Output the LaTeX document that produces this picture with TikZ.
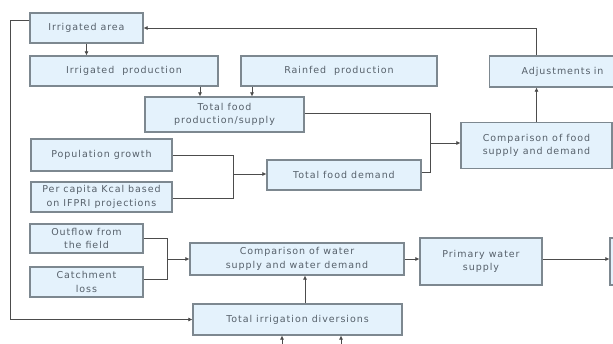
\documentclass[tikz,border=0pt]{standalone}
\usepackage{fontspec}
\usetikzlibrary{arrows.meta}
\setmainfont{DejaVu Sans}
\newfontfamily\boxfont[LetterSpace=10]{DejaVu Sans}
\definecolor{boxfill}{HTML}{E4F2FC}
\definecolor{boxline}{HTML}{7D8890}
\definecolor{txt}{HTML}{56606A}
\tikzset{
 box/.style={draw=boxline,line width=1.2pt,fill=boxfill,text=txt,font=\boxfont\fontsize{9.5}{13.5}\selectfont,align=center,inner sep=1pt},
 conn/.style={draw=black!70,line width=0.6pt},
}
\begin{document}
\begin{tikzpicture}[x=1pt,y=-1pt,>={Latex[length=4pt,width=4pt]}]
 \useasboundingbox (0,0) rectangle (613,343);
 %箱
 \node[box,minimum width=113,minimum height=30] (irrarea) at (86.5,28) {Irrigated area};
 \node[box,minimum width=188,minimum height=30] (irrprod) at (124,71) {Irrigated\ \ production};
 \node[box,minimum width=196,minimum height=30] (rainprod) at (339,71) {Rainfed\ \ production};
 \node[box,minimum width=159,minimum height=35] (foodsup) at (224.5,114.5) {Total food\\production/supply};
 \node[box,minimum width=200,minimum height=31,anchor=west,text width=150,align=left,inner xsep=32] (adjust) at (489,71.5) {Adjustments in};
 \node[box,minimum width=151,minimum height=46] (foodcomp) at (536.5,145.5) {Comparison of food\\supply and demand};
 \node[box,minimum width=141,minimum height=32] (popgrowth) at (101.5,155) {Population growth};
 \node[box,minimum width=141,minimum height=30] (percapita) at (101.5,197) {Per capita Kcal based\\on IFPRI projections};
 \node[box,minimum width=154,minimum height=30] (fooddem) at (344,175) {Total food demand};
 \node[box,minimum width=113,minimum height=29] (outflow) at (86.5,238.5) {Outflow from\\the field};
 \node[box,minimum width=113,minimum height=30] (catch) at (86.5,282) {Catchment\\loss};
 \node[box,minimum width=214,minimum height=32] (watercomp) at (297,259) {Comparison of water\\supply and water demand};
 \node[box,minimum width=122,minimum height=47] (primary) at (481,261.5) {Primary water\\supply};
 \node[box,minimum width=100,minimum height=47] (rightbox) at (660,261.5) {};
 \node[box,minimum width=209,minimum height=31] (diversions) at (297.5,319.5) {Total irrigation diversions};
 %分岐点
 \coordinate (lft) at (10,0);
 \coordinate (fj) at (430,143);
 \coordinate (pj) at (233,174);
 \coordinate (wj) at (167,259);
 \coordinate (in1) at (282,350);
 \coordinate (in2) at (341,350);
 %矢印
 \draw[conn,->] ([yshift=8pt]irrarea.west) -- ([yshift=8pt]irrarea.west -| lft) |- (diversions.west);
 \draw[conn,->] (irrarea.south) -- (irrarea.south |- irrprod.north);
 \draw[conn,->] ([xshift=-24.5pt]foodsup.north |- irrprod.south) -- ([xshift=-24.5pt]foodsup.north);
 \draw[conn,->] ([xshift=27.5pt]foodsup.north |- rainprod.south) -- ([xshift=27.5pt]foodsup.north);
 \draw[conn] ([yshift=1.5pt]foodsup.east) -| (fj);
 \draw[conn] ([yshift=3pt]fooddem.east) -| (fj);
 \draw[conn,->] (fj) -- (fj -| foodcomp.west);
 \draw[conn,->] (foodcomp.north) -- (foodcomp.north |- adjust.south);
 \draw[conn,->] (foodcomp.north |- adjust.north) |- (irrarea.east);
 \draw[conn] (popgrowth.east) -| (pj);
 \draw[conn] ([yshift=-1pt]percapita.east) -| (pj);
 \draw[conn,->] (pj) -- (pj -| fooddem.west);
 \draw[conn] (outflow.east) -| (wj);
 \draw[conn] ([yshift=3pt]catch.east) -| (wj);
 \draw[conn,->] (wj) -- (watercomp.west);
 \draw[conn,->] (watercomp.east) -- (watercomp.east -| primary.west);
 \draw[conn,->] (watercomp.east -| primary.east) -- (watercomp.east -| rightbox.west);
 \draw[conn,->] ([xshift=7.5pt]diversions.north) -- ([xshift=7.5pt]diversions.north |- watercomp.south);
 \draw[conn,->] (in1) -- (in1 |- diversions.south);
 \draw[conn,->] (in2) -- (in2 |- diversions.south);
\end{tikzpicture}
\end{document}
